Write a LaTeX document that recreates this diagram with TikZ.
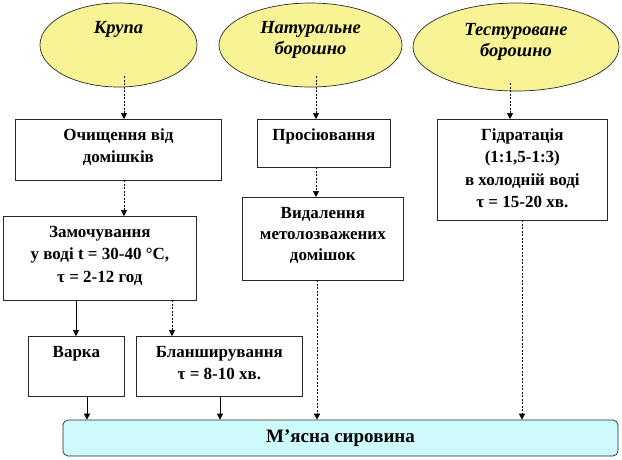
\documentclass[tikz,border=0pt]{standalone}
\usepackage{fontspec}
\setmainfont{Liberation Serif}
\usetikzlibrary{shapes.geometric,arrows.meta}
\definecolor{ovalfill}{RGB}{248,244,150}
\definecolor{basefill}{RGB}{205,250,250}
\definecolor{edge}{RGB}{40,40,40}
\newcommand\bt[3]{\begin{minipage}[c][#2][t]{#1}\centering\rule{0pt}{21pt}#3\end{minipage}}
\newcommand\ot[2]{\begin{minipage}[t]{#1}\centering\rule{0pt}{17pt}#2\end{minipage}}
\tikzset{
  oval/.style={ellipse,draw=edge,line width=0.7pt,fill=ovalfill,inner sep=0pt},
  otext/.style={inner sep=0pt,anchor=north,font=\fontsize{18.5}{21}\selectfont\bfseries\itshape},
  proc/.style={rectangle,draw=edge,line width=0.7pt,fill=white,inner sep=0pt,anchor=north west,font=\fontsize{17}{22.5}\selectfont\bfseries},
  base/.style={rectangle,rounded corners=5pt,draw=edge,line width=0.7pt,fill=basefill,inner sep=0pt,minimum width=555pt,minimum height=36pt,font=\fontsize{19}{22}\selectfont\bfseries},
  flow/.style={draw=black,line width=0.7pt,-{Triangle[width=6pt,length=6pt]}},
  dflow/.style={flow,dash pattern=on 2pt off 1.5pt},
  x=1pt,y=-1pt
}
\begin{document}
\begin{tikzpicture}
\useasboundingbox (0,0) rectangle (622,459);
% ovals
\node[oval,minimum width=157pt,minimum height=84pt] (krupa) at (118.5,45) {};
\node[otext] (krupat) at (118.5,16) {\ot{150pt}{Крупа}};
\node[oval,minimum width=183pt,minimum height=84pt] (nat) at (310.5,45) {};
\node[otext] (natt) at (310.5,16) {\ot{175pt}{Натуральне\\борошно}};
\node[oval,minimum width=206pt,minimum height=88pt] (test) at (516,47) {};
\node[otext] (testt) at (516,18) {\ot{195pt}{Тестуроване\\борошно}};
% boxes
\node[proc] (b1) at (15,119) {\bt{206pt}{61pt}{Очищення від\\домішків}};
\node[proc] (b2) at (257,119) {\bt{133pt}{48pt}{Просіювання}};
\node[proc] (b3) at (437,119) {\bt{170pt}{101pt}{Гідратація\\(1:1,5-1:3)\\в холодній воді\\τ = 15-20 хв.}};
\node[proc] (b4) at (3,216) {\bt{193pt}{84pt}{Замочування\\у воді t = 30-40 °C,\\τ = 2-12 год}};
\node[proc,font=\fontsize{17}{21}\selectfont\bfseries] (b5) at (242,197) {\bt{161pt}{83pt}{Видалення\\метолозважених\\домішок}};
\node[proc] (b6) at (28,336) {\bt{96pt}{60pt}{Варка}};
\node[proc] (b7) at (136,336) {\bt{166pt}{60pt}{Бланширування\\τ = 8-10 хв.}};
\node[base] (b8) at (340.5,438) {М’ясна сировина};
% connector start points
\coordinate (k1) at (124,76);
\coordinate (n1) at (316,76);
\coordinate (t1) at (510,83);
\coordinate (c1) at (124,180);
\coordinate (c2) at (316,167);
\coordinate (c3) at (76,300);
\coordinate (c4) at (172,300);
\coordinate (c5) at (87,396);
\coordinate (c6) at (220,396);
\coordinate (c7) at (317,280);
\coordinate (c8) at (522,220);
% connectors
\draw[dflow] (k1) -- (k1 |- b1.north);
\draw[dflow] (n1) -- (n1 |- b2.north);
\draw[dflow] (t1) -- (t1 |- b3.north);
\draw[dflow] (c1) -- (c1 |- b4.north);
\draw[dflow] (c2) -- (c2 |- b5.north);
\draw[flow] (c3) -- (c3 |- b6.north);
\draw[dflow] (c4) -- (c4 |- b7.north);
\draw[flow] (c5) -- (c5 |- b8.north);
\draw[flow] (c6) -- (c6 |- b8.north);
\draw[dflow] (c7) -- (c7 |- b8.north);
\draw[dflow] (c8) -- (c8 |- b8.north);
\end{tikzpicture}
\end{document}
